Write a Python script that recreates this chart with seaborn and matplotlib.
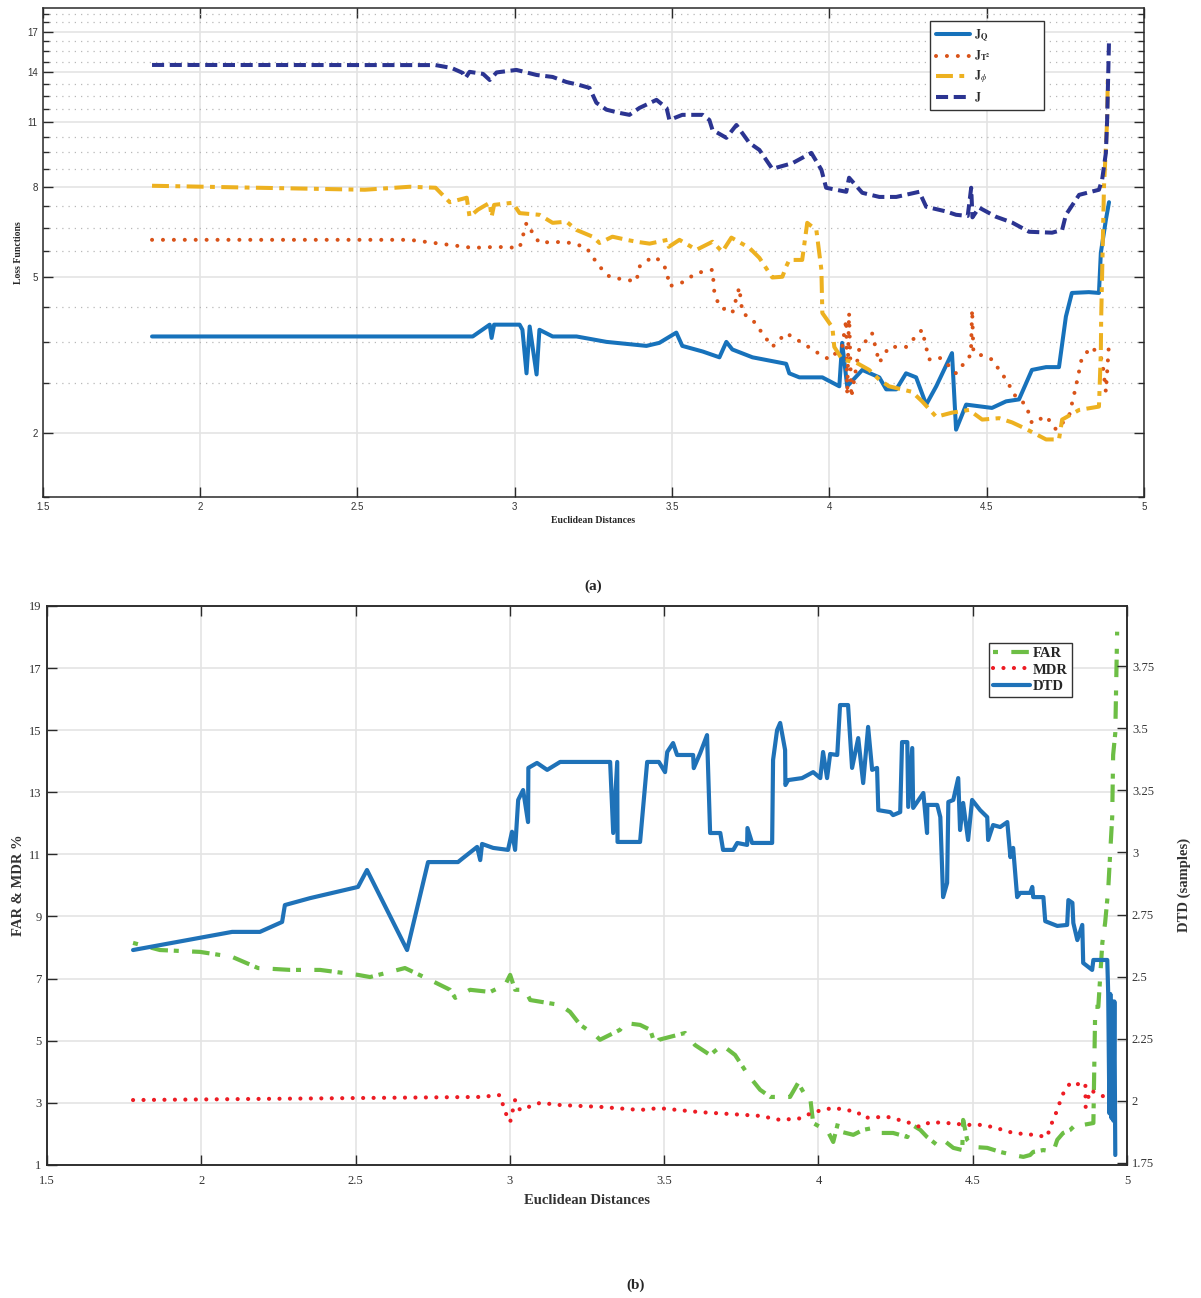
import numpy as np
import pandas as pd
import matplotlib
matplotlib.use("Agg")
import matplotlib.pyplot as plt
import seaborn as sns

# ---------------- (a) loss functions vs. Euclidean distance ----------------
jq_x = [1.848, 2.841, 2.867, 2.921, 2.927, 2.935, 3.016, 3.025, 3.038, 3.048, 3.070, 3.079,
        3.121, 3.197, 3.292, 3.419, 3.460, 3.514, 3.533, 3.598, 3.651, 3.673, 3.692, 3.756,
        3.863, 3.873, 3.905, 3.978, 4.032, 4.041, 4.057, 4.105, 4.159, 4.181, 4.213, 4.244,
        4.276, 4.308, 4.340, 4.390, 4.403, 4.435, 4.517, 4.562, 4.603, 4.644, 4.689, 4.730,
        4.752, 4.771, 4.825, 4.857, 4.863, 4.879, 4.889]
jq_y = [3.61, 3.61, 3.61, 3.86, 3.58, 3.86, 3.86, 3.75, 2.91, 3.82, 2.89, 3.75,
        3.61, 3.61, 3.50, 3.42, 3.48, 3.69, 3.42, 3.31, 3.20, 3.50, 3.35, 3.20,
        3.08, 2.91, 2.84, 2.84, 2.69, 3.48, 2.69, 2.97, 2.84, 2.64, 2.64, 2.91,
        2.84, 2.40, 2.69, 3.28, 2.04, 2.40, 2.35, 2.45, 2.48, 2.97, 3.02, 3.02,
        4.04, 4.60, 4.62, 4.60, 5.70, 6.76, 7.40]

jt2_x = [1.848, 2.667, 2.867, 2.943, 3.016, 3.038, 3.057, 3.079, 3.121, 3.184, 3.229, 3.248,
         3.270, 3.302, 3.343, 3.387, 3.397, 3.438, 3.460, 3.483, 3.492, 3.533, 3.578, 3.629,
         3.635, 3.651, 3.692, 3.714, 3.724, 3.756, 3.787, 3.819, 3.863, 3.914, 3.959, 4.000,
         4.041, 4.054, 4.057, 4.063, 4.070, 4.095, 4.136, 4.159, 4.190, 4.244, 4.295, 4.317,
         4.349, 4.371, 4.403, 4.450, 4.454, 4.458, 4.517, 4.562, 4.594, 4.625, 4.644, 4.689,
         4.721, 4.762, 4.784, 4.803, 4.835, 4.867, 4.879, 4.889]
jt2_y = [6.10, 6.10, 5.85, 5.88, 5.85, 6.66, 6.33, 6.00, 6.04, 6.00, 5.85, 5.58,
         5.30, 5.02, 4.95, 4.90, 5.30, 5.58, 5.49, 5.21, 4.77, 4.87, 5.12, 5.21,
         4.60, 4.27, 4.12, 4.74, 4.12, 3.97, 3.68, 3.40, 3.68, 3.48, 3.30, 3.16,
         3.40, 3.97, 2.55, 4.12, 2.51, 3.35, 3.68, 3.10, 3.40, 3.40, 3.75, 3.16,
         3.20, 3.10, 2.91, 3.25, 4.20, 3.30, 3.16, 2.80, 2.51, 2.40, 2.13, 2.23,
         2.04, 2.23, 2.69, 3.20, 3.40, 3.16, 2.60, 3.48]

jphi_x = [1.848, 2.524, 2.667, 2.749, 2.794, 2.848, 2.857, 2.883, 2.921, 2.927, 2.935, 2.994,
          3.016, 3.079, 3.121, 3.165, 3.197, 3.248, 3.270, 3.311, 3.356, 3.387, 3.429, 3.486,
          3.490, 3.524, 3.578, 3.629, 3.660, 3.689, 3.746, 3.778, 3.819, 3.851, 3.863, 3.873,
          3.914, 3.930, 3.959, 3.975, 3.978, 4.010, 4.016, 4.041, 4.086, 4.127, 4.159, 4.190,
          4.263, 4.295, 4.340, 4.390, 4.444, 4.486, 4.540, 4.581, 4.625, 4.689, 4.730, 4.740,
          4.794, 4.857, 4.863, 4.864, 4.873, 4.883, 4.885]
jphi_y = [8.04, 7.88, 8.00, 7.96, 7.40, 7.57, 6.87, 7.12, 7.38, 6.87, 7.30, 7.38,
          7.00, 6.94, 6.66, 6.70, 6.42, 6.20, 6.00, 6.20, 6.10, 6.04, 5.98, 6.10,
          5.88, 6.10, 5.79, 6.04, 5.73, 6.17, 5.85, 5.55, 5.00, 5.02, 5.30, 5.49,
          5.49, 6.66, 6.42, 5.21, 4.12, 3.80, 3.40, 3.16, 3.10, 2.97, 2.80, 2.69,
          2.60, 2.45, 2.22, 2.28, 2.32, 2.18, 2.20, 2.14, 2.05, 1.91, 1.91, 2.18,
          2.32, 2.37, 3.30, 3.97, 8.00, 11.10, 13.50]

j_x = [1.848, 2.749, 2.800, 2.835, 2.844, 2.857, 2.900, 2.921, 2.943, 3.006, 3.070, 3.121,
       3.165, 3.206, 3.238, 3.260, 3.292, 3.333, 3.365, 3.397, 3.451, 3.483, 3.492, 3.533,
       3.598, 3.619, 3.629, 3.673, 3.705, 3.746, 3.778, 3.819, 3.883, 3.943, 3.975, 3.990,
       4.054, 4.063, 4.105, 4.159, 4.213, 4.286, 4.308, 4.371, 4.403, 4.440, 4.451, 4.455,
       4.476, 4.530, 4.581, 4.635, 4.708, 4.740, 4.752, 4.794, 4.857, 4.867, 4.879, 4.883,
       4.889]
j_y = [14.51, 14.50, 14.30, 13.97, 13.63, 14.04, 13.90, 13.50, 14.00, 14.17, 13.83, 13.70,
       13.37, 13.18, 13.00, 12.10, 11.70, 11.52, 11.41, 11.80, 12.27, 11.80, 11.13, 11.41,
       11.41, 11.13, 10.60, 10.20, 10.86, 9.95, 9.61, 8.75, 9.00, 9.47, 8.71, 7.96,
       7.80, 8.37, 7.76, 7.60, 7.60, 7.80, 7.23, 7.06, 6.94, 6.90, 7.96, 6.85,
       7.20, 6.87, 6.67, 6.36, 6.33, 6.42, 6.94, 7.68, 7.88, 8.28, 9.47, 11.13,
       16.30]

loss_ticks = [2, 5, 8, 11, 14, 17]
dist_ticks = [1.5, 2, 2.5, 3, 3.5, 4, 4.5, 5]
dist_labels = ["1.5", "2", "2.5", "3", "3.5", "4", "4.5", "5"]

# ---------------- (b) FAR / MDR / DTD vs. Euclidean distance ----------------
far_x = [1.779, 1.866, 1.996, 2.100, 2.184, 2.288, 2.385, 2.508, 2.547, 2.660, 2.741, 2.806,
         2.823, 2.871, 2.936, 2.985, 3.001, 3.017, 3.049, 3.066, 3.163, 3.195, 3.228, 3.276,
         3.292, 3.357, 3.374, 3.422, 3.455, 3.471, 3.483, 3.568, 3.600, 3.649, 3.688, 3.730,
         3.772, 3.811, 3.844, 3.908, 3.934, 3.957, 3.973, 3.983, 4.006, 4.028, 4.048, 4.064,
         4.077, 4.113, 4.145, 4.177, 4.200, 4.242, 4.288, 4.304, 4.330, 4.352, 4.385, 4.404,
         4.437, 4.466, 4.469, 4.482, 4.502, 4.547, 4.589, 4.631, 4.664, 4.686, 4.696, 4.729,
         4.761, 4.774, 4.793, 4.816, 4.839, 4.858, 4.891, 4.897, 4.907, 4.920, 4.929, 4.939,
         4.946, 4.952, 4.955, 4.962, 4.968]
far_y = [8.15, 7.92, 7.86, 7.70, 7.34, 7.28, 7.28, 7.12, 7.05, 7.34, 6.96, 6.64,
         6.38, 6.64, 6.57, 6.80, 7.12, 6.64, 6.64, 6.31, 6.15, 5.93, 5.51, 5.19,
         5.03, 5.35, 5.57, 5.51, 5.35, 4.86, 5.03, 5.25, 4.86, 4.54, 4.86, 4.54,
         3.90, 3.42, 3.19, 3.19, 3.64, 3.25, 3.19, 2.35, 2.22, 2.13, 1.74, 2.38,
         2.06, 1.97, 2.13, 2.19, 2.03, 2.03, 1.90, 2.29, 2.13, 1.90, 1.64, 1.81,
         1.55, 1.48, 2.45, 1.81, 1.58, 1.55, 1.42, 1.32, 1.26, 1.32, 1.42, 1.48,
         1.42, 1.81, 2.03, 2.13, 2.35, 2.29, 2.35, 6.09, 6.09, 8.15, 8.79, 9.86,
         11.14, 12.21, 14.20, 14.91, 18.17]

mdr_x = [1.779, 2.904, 2.968, 2.985, 3.001, 3.017, 3.033, 3.098, 3.163, 3.292, 3.422, 3.483,
         3.617, 3.811, 3.876, 3.941, 3.983, 4.048, 4.126, 4.145, 4.223, 4.288, 4.330, 4.362,
         4.417, 4.482, 4.524, 4.566, 4.631, 4.696, 4.741, 4.751, 4.774, 4.790, 4.816, 4.826,
         4.865, 4.866, 4.881, 4.913, 4.929]
mdr_y = [3.09, 3.19, 3.25, 2.70, 2.38, 3.09, 2.77, 3.00, 2.93, 2.87, 2.77, 2.83,
         2.70, 2.58, 2.45, 2.50, 2.70, 2.84, 2.71, 2.52, 2.55, 2.38, 2.22, 2.38,
         2.35, 2.29, 2.29, 2.22, 2.03, 1.97, 1.90, 2.22, 2.77, 3.25, 3.64, 3.58,
         3.64, 2.87, 3.41, 3.25, 3.19]

dtd_x = [1.779, 2.100, 2.190, 2.262, 2.271, 2.353, 2.508, 2.537, 2.667, 2.735, 2.832, 2.848,
         2.894, 2.904, 2.910, 2.946, 2.994, 3.007, 3.017, 3.027, 3.043, 3.059, 3.060, 3.088,
         3.121, 3.163, 3.325, 3.335, 3.348, 3.349, 3.422, 3.445, 3.483, 3.503, 3.510, 3.529,
         3.542, 3.594, 3.596, 3.617, 3.639, 3.649, 3.682, 3.691, 3.724, 3.737, 3.769, 3.770,
         3.785, 3.850, 3.853, 3.866, 3.876, 3.892, 3.893, 3.902, 3.947, 3.983, 4.006, 4.015,
         4.028, 4.038, 4.061, 4.070, 4.096, 4.109, 4.129, 4.145, 4.161, 4.174, 4.190, 4.194,
         4.233, 4.242, 4.265, 4.271, 4.288, 4.291, 4.304, 4.307, 4.340, 4.352, 4.353, 4.385,
         4.395, 4.404, 4.417, 4.421, 4.437, 4.453, 4.459, 4.469, 4.485, 4.498, 4.524, 4.547,
         4.550, 4.566, 4.589, 4.612, 4.622, 4.631, 4.644, 4.654, 4.686, 4.693, 4.696, 4.729,
         4.735, 4.774, 4.806, 4.810, 4.823, 4.826, 4.839, 4.855, 4.858, 4.887, 4.891, 4.936,
         4.939, 4.943, 4.946, 4.950, 4.953, 4.956, 4.959, 4.962]
dtd_y = [2.607, 2.680, 2.680, 2.720, 2.788, 2.816, 2.861, 2.929, 2.607, 2.961, 2.961, 2.977,
         3.022, 2.969, 3.034, 3.018, 3.010, 3.083, 3.010, 3.211, 3.251, 3.122, 3.340, 3.360,
         3.332, 3.364, 3.364, 3.078, 3.364, 3.042, 3.042, 3.364, 3.364, 3.323, 3.404, 3.440,
         3.392, 3.392, 3.339, 3.400, 3.472, 3.078, 3.078, 3.010, 3.010, 3.038, 3.030, 3.098,
         3.038, 3.038, 3.372, 3.492, 3.521, 3.412, 3.271, 3.291, 3.299, 3.323, 3.299, 3.404,
         3.299, 3.396, 3.392, 3.593, 3.593, 3.340, 3.460, 3.279, 3.505, 3.332, 3.340, 3.170,
         3.162, 3.150, 3.162, 3.444, 3.444, 3.183, 3.420, 3.179, 3.239, 3.078, 3.191, 3.191,
         3.142, 2.820, 2.877, 3.203, 3.211, 3.299, 3.090, 3.199, 3.050, 3.211, 3.170, 3.142,
         3.050, 3.110, 3.102, 3.122, 2.981, 3.018, 2.820, 2.837, 2.837, 2.861, 2.820, 2.820,
         2.723, 2.704, 2.708, 2.808, 2.797, 2.716, 2.647, 2.708, 2.555, 2.527, 2.567, 2.567,
         2.434, 1.950, 2.430, 1.930, 2.400, 1.920, 2.400, 1.782]

rate_ticks = [1, 3, 5, 7, 9, 11, 13, 15, 17, 19]
dtd_ticks = [1.75, 2, 2.25, 2.5, 2.75, 3, 3.25, 3.5, 3.75]
dtd_tick_labels = ["1.75", "2", "2.25", "2.5", "2.75", "3", "3.25", "3.5", "3.75"]

# ---------------- styling ----------------
sns.set_style("ticks")
plt.rcParams["font.family"] = ["Liberation Sans", "DejaVu Sans"]
plt.rcParams["mathtext.fontset"] = "stix"
SERIF = ["Liberation Serif", "DejaVu Serif"]

C_JQ, C_JT, C_JP, C_J = "#1772BB", "#D95319", "#EDB120", "#2B3491"
C_FAR, C_MDR, C_DTD = "#6DBE45", "#ED1C24", "#1F72B8"
GRID = "#e4e4e4"
SPINE = "#2a2a2a"

fig = plt.figure(figsize=(12.01, 12.98), dpi=100)

# ---------- panel (a) ----------
ax1 = fig.add_axes([0.0354, 0.6171, 0.9171, 0.3767])
ax1.set_yscale("function", functions=(np.log1p, np.expm1))

lw_a = 2.9
sns.lineplot(x=jq_x, y=jq_y, ax=ax1, color=C_JQ, lw=lw_a, sort=False, estimator=None,
             label=r"$\mathbf{J}_{\mathbf{Q}}$", solid_joinstyle="round")
sns.lineplot(x=jt2_x, y=jt2_y, ax=ax1, color=C_JT, lw=lw_a, sort=False, estimator=None,
             linestyle=(0, (0.01, 2.7)), dash_capstyle="round",
             label=r"$\mathbf{J}_{\mathbf{T}^{\mathbf{2}}}$")
sns.lineplot(x=jphi_x, y=jphi_y, ax=ax1, color=C_JP, lw=lw_a, sort=False, estimator=None,
             linestyle=(0, (4.2, 1.6, 1.2, 1.6)), label=r"$\mathbf{J}_{\phi}$")
sns.lineplot(x=j_x, y=j_y, ax=ax1, color=C_J, lw=lw_a, sort=False, estimator=None,
             linestyle=(0, (3.0, 1.4)), label=r"$\mathbf{J}$")

ax1.set_xlim(1.5, 5)
ax1.set_ylim(1.25, 19)
ax1.set_xticks(dist_ticks)
ax1.set_xticklabels(dist_labels)
ax1.set_yticks(loss_ticks)
ax1.set_yticklabels([str(t) for t in loss_ticks])
minor = [v for v in np.arange(1.25, 19.01, 0.75) if v not in loss_ticks]
ax1.set_yticks(minor, minor=True)
ax1.yaxis.set_minor_formatter(matplotlib.ticker.NullFormatter())
ax1.set_axisbelow(True)
ax1.grid(True, which="major", color=GRID, lw=1.2)
ax1.grid(True, which="minor", axis="y", color="#b8b8b8", lw=0.9, ls=(0, (1, 4)))
ax1.tick_params(which="both", direction="in", top=True, right=True, colors=SPINE,
                labelsize=7, labelcolor="#333333", width=1.0)
ax1.tick_params(which="major", length=7)
ax1.tick_params(which="minor", length=4)
for s in ax1.spines.values():
    s.set_color(SPINE)
    s.set_linewidth(1.1)
ax1.set_xlabel("Euclidean Distances", family=SERIF, weight="bold", fontsize=7, labelpad=3)
ax1.set_ylabel("Loss Functions", family=SERIF, weight="bold", fontsize=7, labelpad=3)
leg1 = ax1.legend(loc="upper left", bbox_to_anchor=(0.806, 0.822, 0.103, 0.151),
                  mode="expand", frameon=True,
                  fancybox=False, edgecolor="#333333", framealpha=1,
                  prop={"family": SERIF, "weight": "bold", "size": 8.5},
                  handlelength=2.9, handletextpad=0.3, borderpad=0.5, labelspacing=0.45,
                  borderaxespad=0)
leg1.get_frame().set_linewidth(1.0)
fig.text(0.494, 0.548, "(a)", family=SERIF, weight="bold", fontsize=11,
         ha="center", va="center")

# ---------- panel (b) ----------
ax2 = fig.add_axes([0.0391, 0.1025, 0.8993, 0.4307])
lw_b = 3.0
sns.lineplot(x=far_x, y=far_y, ax=ax2, color=C_FAR, lw=lw_b, sort=False, estimator=None,
             linestyle=(0, (1.2, 3.2, 4.2, 1.4)), label="FAR")
sns.lineplot(x=mdr_x, y=mdr_y, ax=ax2, color=C_MDR, lw=lw_b, sort=False, estimator=None,
             linestyle=(0, (0.01, 2.5)), dash_capstyle="round", label="MDR")
ax2.set_xlim(1.5, 5)
ax2.set_ylim(1, 19)
ax2.set_xticks(dist_ticks)
ax2.set_xticklabels(dist_labels)
ax2.set_yticks(rate_ticks)
ax2.set_axisbelow(True)
ax2.grid(True, which="major", color=GRID, lw=1.2)
ax2.tick_params(direction="in", top=True, right=False, length=7, width=1.0, colors=SPINE,
                labelsize=9, labelcolor="#333333")
ax2.tick_params(axis="x", pad=7)
ax2.tick_params(axis="y", pad=4)
for lab in ax2.get_xticklabels() + ax2.get_yticklabels():
    lab.set_family(SERIF)
for s in ax2.spines.values():
    s.set_color(SPINE)
    s.set_linewidth(1.1)
ax2.set_xlabel("Euclidean Distances", family=SERIF, weight="bold", fontsize=10.5,
               color="#333333", labelpad=5)
ax2.set_ylabel("FAR & MDR %", family=SERIF, weight="bold", fontsize=10.5,
               color="#333333", labelpad=3)

ax3 = ax2.twinx()
sns.lineplot(x=dtd_x, y=dtd_y, ax=ax3, color=C_DTD, lw=lw_b, sort=False, estimator=None,
             label="DTD", solid_joinstyle="round")
ax3.set_ylim(1.742, 3.992)
ax3.set_yticks(dtd_ticks)
ax3.set_yticklabels(dtd_tick_labels)
ax3.tick_params(direction="in", length=7, width=1.0, colors=SPINE, labelsize=9,
                labelcolor="#333333")
for lab in ax3.get_yticklabels():
    lab.set_family(SERIF)
ax3.set_ylabel("DTD (samples)", family=SERIF, weight="bold", fontsize=10.5,
               color="#333333", labelpad=17)
for s in ax3.spines.values():
    s.set_color(SPINE)
    s.set_linewidth(1.1)

h2, l2 = ax2.get_legend_handles_labels()
h3, l3 = ax3.get_legend_handles_labels()
if ax2.get_legend() is not None:
    ax2.get_legend().remove()
leg2 = ax3.legend(h2 + h3, l2 + l3, loc="upper left", bbox_to_anchor=(0.872, 0.934),
                  frameon=True, fancybox=False, edgecolor="#333333", framealpha=1,
                  prop={"family": SERIF, "weight": "bold", "size": 10.5},
                  handlelength=2.5, handletextpad=0.2, borderpad=0.3, labelspacing=0.2,
                  borderaxespad=0)
leg2.get_frame().set_linewidth(1.0)
fig.text(0.529, 0.0100, "(b)", family=SERIF, weight="bold", fontsize=11,
         ha="center", va="center")

fig.savefig("out.png", dpi=100)
